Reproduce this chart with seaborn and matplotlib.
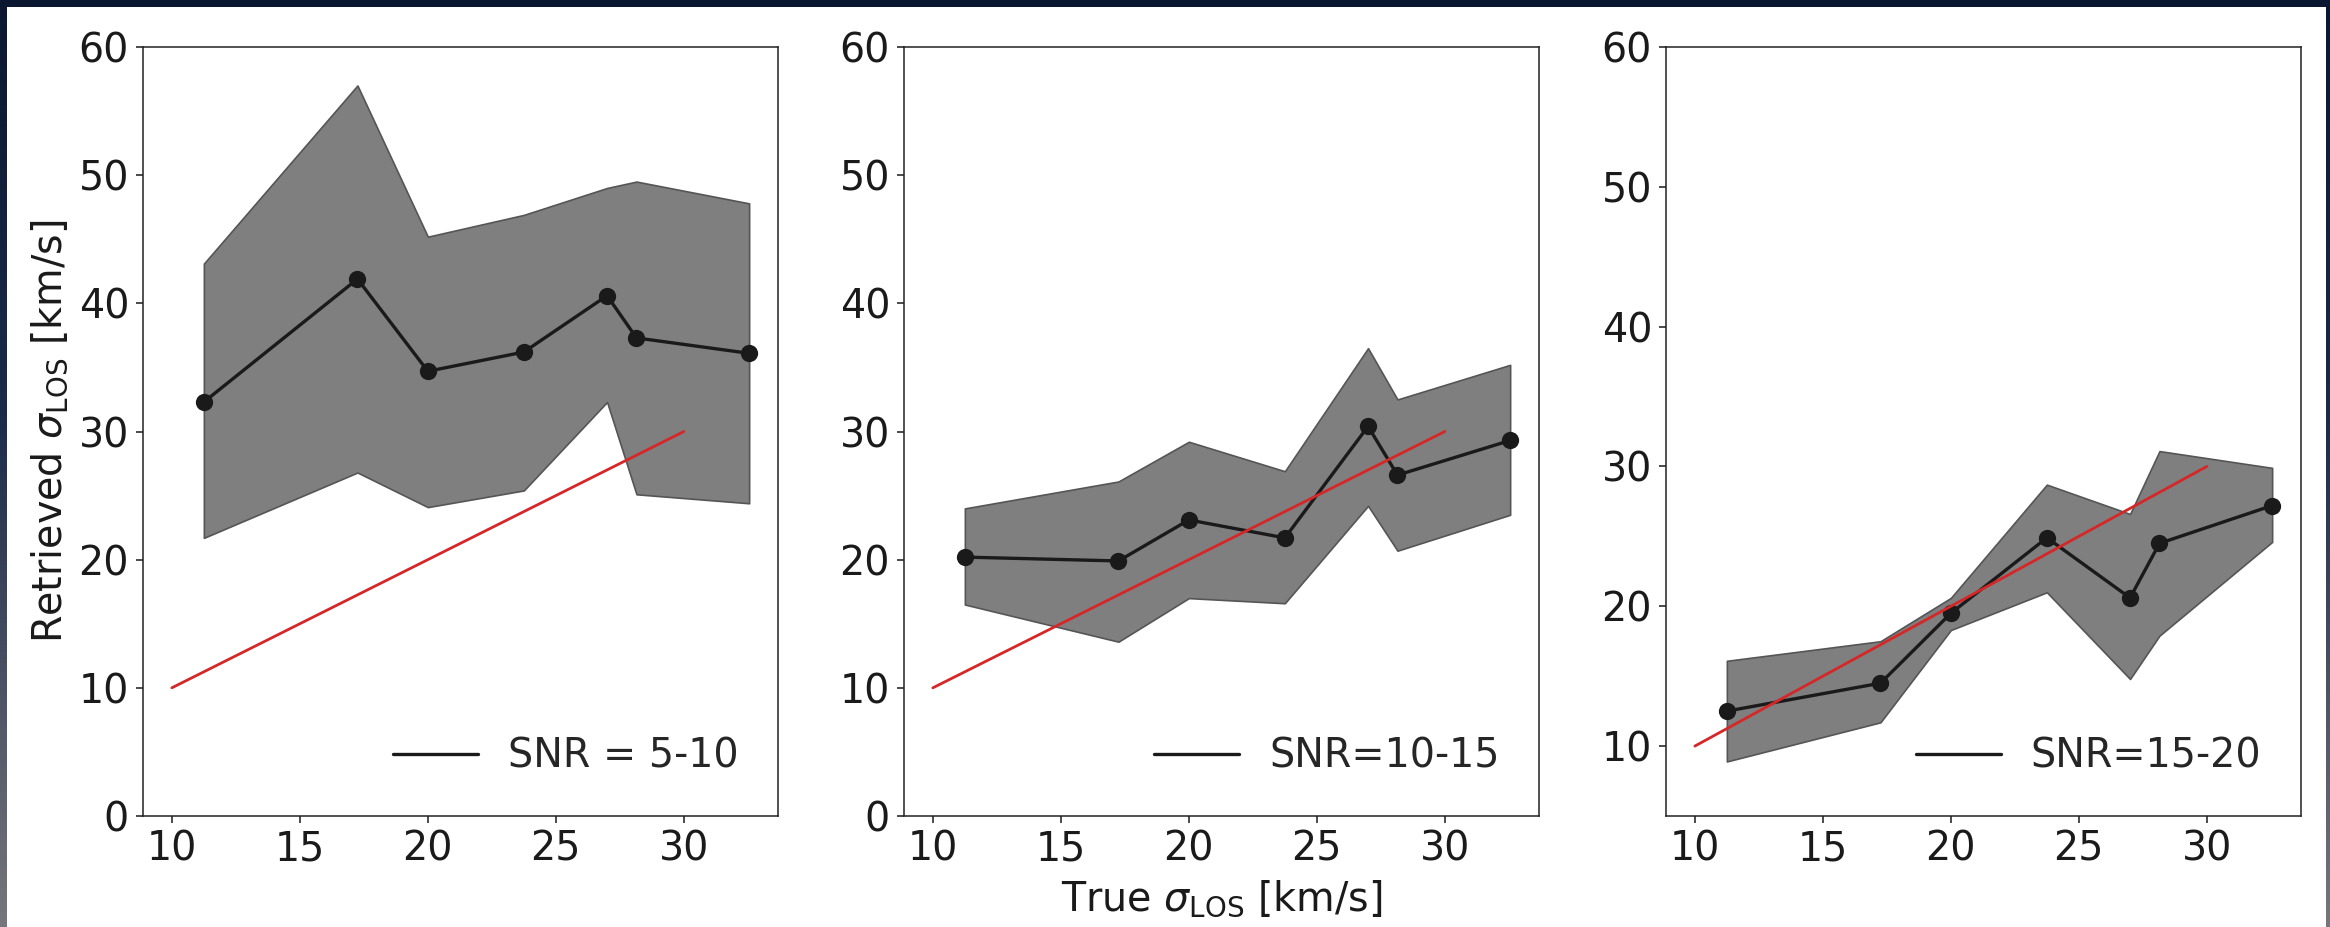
import numpy as np
import pandas as pd
import matplotlib
matplotlib.use("Agg")
import matplotlib.pyplot as plt
import seaborn as sns
from matplotlib.colors import LinearSegmentedColormap
from matplotlib.patches import Rectangle

# ---------------- data ----------------
true_sigma = [11.25, 17.25, 20.0, 23.75, 27.0, 28.15, 32.55]

snr_labels = ["SNR = 5-10", "SNR=10-15", "SNR=15-20"]

mean_snr5 = [32.3, 41.9, 34.7, 36.2, 40.6, 37.3, 36.1]
upper_snr5 = [43.1, 57.0, 45.2, 46.9, 49.0, 49.5, 47.8]
lower_snr5 = [21.7, 26.8, 24.1, 25.4, 32.3, 25.1, 24.4]

mean_snr10 = [20.2, 19.9, 23.1, 21.7, 30.4, 26.6, 29.3]
upper_snr10 = [24.0, 26.1, 29.2, 26.9, 36.5, 32.5, 35.2]
lower_snr10 = [16.5, 13.6, 17.0, 16.6, 24.2, 20.7, 23.5]

mean_snr15 = [12.5, 14.5, 19.5, 24.9, 20.6, 24.5, 27.2]
upper_snr15 = [16.1, 17.5, 20.6, 28.7, 26.6, 31.1, 29.9]
lower_snr15 = [8.9, 11.7, 18.3, 21.0, 14.8, 17.9, 24.6]

one_to_one_x = [10, 30]
one_to_one_y = [10, 30]

xticks = [10, 15, 20, 25, 30]
yticks_full = [0, 10, 20, 30, 40, 50, 60]
yticks_p3 = [10, 20, 30, 40, 50, 60]
ylims = [(0, 60), (0, 60), (5, 60)]

# ---------------- style ----------------
sns.set_theme(style="ticks")
plt.rcParams["font.family"] = ["DejaVu Sans"]
plt.rcParams["mathtext.fontset"] = "dejavusans"
FS = 28.5

fig = plt.figure(figsize=(23.30, 9.27), dpi=100)

# slide-like dark border background
bg = fig.add_axes([0, 0, 1, 1], zorder=-10)
cmap = LinearSegmentedColormap.from_list(
    "bg", [(0.0, "#0b1730"), (0.45, "#1b2b48"), (1.0, "#76767c")])
grad = np.linspace(0, 1, 256).reshape(-1, 1)
bg.imshow(grad, aspect="auto", cmap=cmap, extent=[0, 1, 0, 1], origin="upper")
bg.set_xlim(0, 1)
bg.set_ylim(0, 1)
bg.axis("off")
bg.add_patch(Rectangle((7 / 2330, 0), (2326 - 7) / 2330, (927 - 7) / 927,
                       transform=bg.transAxes, facecolor="white",
                       edgecolor="none", zorder=5))

lefts = [143 / 2330, 904 / 2330, 1666 / 2330]
width = 635 / 2330
bottom = 1 - 816 / 927
height = (816 - 47) / 927

means = [mean_snr5, mean_snr10, mean_snr15]
uppers = [upper_snr5, upper_snr10, upper_snr15]
lowers = [lower_snr5, lower_snr10, lower_snr15]

for i in range(3):
    ax = fig.add_axes([lefts[i], bottom, width, height])
    ax.set_facecolor("white")
    df = pd.DataFrame({"x": true_sigma, "y": means[i],
                       "lo": lowers[i], "hi": uppers[i]})
    ax.fill_between(df["x"], df["lo"], df["hi"], facecolor="#7f7f7f",
                    edgecolor="#555555", linewidth=1.2, zorder=1)
    sns.lineplot(data=df, x="x", y="y", color="k", linewidth=2.4,
                 label=snr_labels[i], ax=ax, zorder=3)
    sns.scatterplot(data=df, x="x", y="y", color="k", s=155,
                    edgecolor="k", linewidth=0, ax=ax, zorder=4, legend=False)
    sns.lineplot(x=one_to_one_x, y=one_to_one_y, color="#d62728",
                 linewidth=2.0, ax=ax, zorder=5)

    ax.set_ylim(*ylims[i])
    ax.set_xticks(xticks)
    ax.set_yticks(yticks_p3 if i == 2 else yticks_full)
    ax.tick_params(axis="both", labelsize=FS, length=5, width=1.1,
                   color="k", labelcolor="k", pad=5)
    for sp in ax.spines.values():
        sp.set_visible(True)
        sp.set_color("#222222")
        sp.set_linewidth(1.1)

    ax.set_xlabel("True $\\sigma_{\\rm LOS}$ [km/s]" if i == 1 else "",
                  fontsize=FS, color="k", labelpad=6)
    ax.set_ylabel("Retrieved $\\sigma_{\\rm LOS}$ [km/s]" if i == 0 else "",
                  fontsize=FS, color="k", labelpad=6)

    handles, labels = ax.get_legend_handles_labels()
    ax.legend(handles[:1], labels[:1], loc="lower right", frameon=False,
              fontsize=FS, handlelength=2.15, handletextpad=0.75,
              borderaxespad=0.6)

fig.savefig("out.png", dpi=100, facecolor=fig.get_facecolor())
